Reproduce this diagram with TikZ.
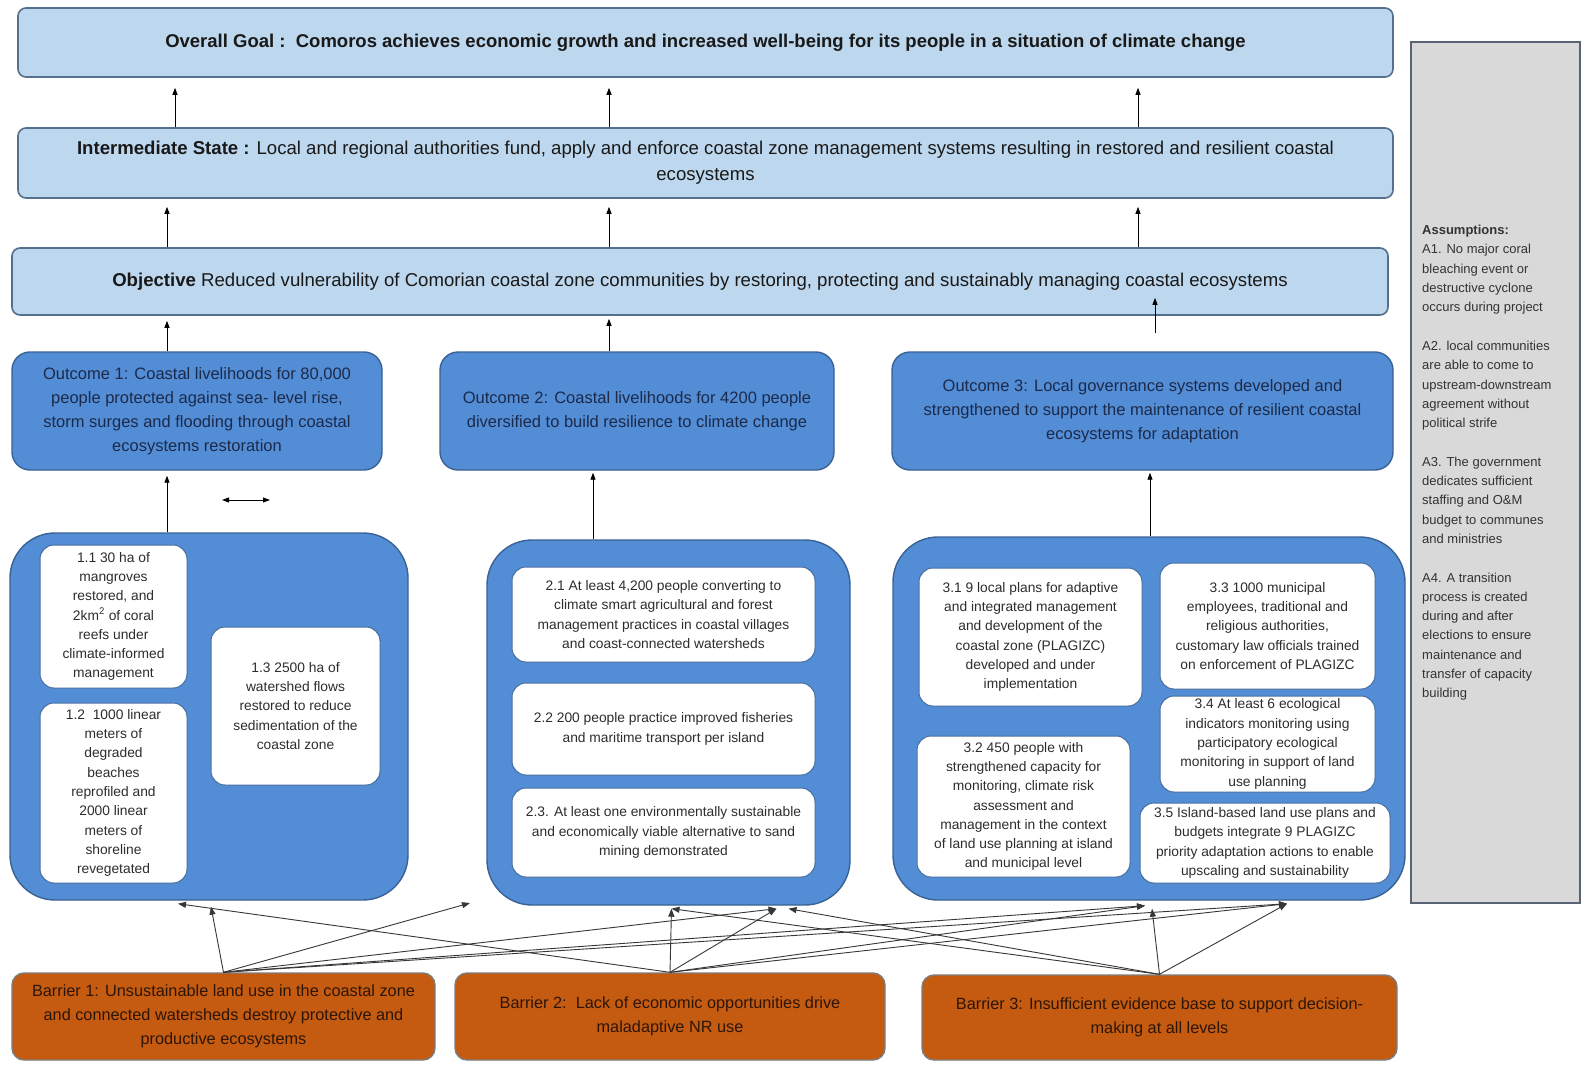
\documentclass[tikz,border=0pt]{standalone}
\usepackage{fontspec}
\setmainfont{Liberation Sans}
\usetikzlibrary{arrows.meta}
\definecolor{lightbox}{RGB}{189,215,238}
\definecolor{lightedge}{RGB}{84,112,140}
\definecolor{midblue}{RGB}{83,141,213}
\definecolor{midedge}{RGB}{58,98,148}
\definecolor{outtext}{RGB}{28,42,75}
\definecolor{barfill}{RGB}{197,90,17}
\definecolor{baredge}{RGB}{125,125,125}
\definecolor{bartext}{RGB}{45,22,8}
\definecolor{asmfill}{RGB}{217,217,217}
\definecolor{asmedge}{RGB}{88,100,115}
\definecolor{innertext}{RGB}{45,45,45}
\definecolor{inneredge}{RGB}{70,110,160}
\definecolor{linkgray}{RGB}{55,55,55}
\begin{document}
\begin{tikzpicture}[x=1pt,y=-1pt,
  topbox/.style={draw=lightedge, line width=1.6pt, fill=lightbox, rounded corners=8pt, align=center, inner sep=0pt, text=black!90},
  outbox/.style={draw=midedge, line width=1.4pt, fill=midblue, rounded corners=18pt, text=outtext, align=center, inner sep=0pt, minimum height=118pt, font=\fontsize{16.5}{24}\selectfont},
  groupbox/.style={draw=midedge, line width=1.4pt, fill=midblue, rounded corners=45pt, inner sep=0pt},
  inbox/.style={draw=inneredge, line width=1pt, fill=white, rounded corners=14pt, align=center, text=innertext, inner sep=0pt, font=\fontsize{13.8}{19.3}\selectfont},
  barbox/.style={draw=baredge, line width=1.4pt, fill=barfill, rounded corners=12pt, text=bartext, align=center, inner sep=0pt, font=\fontsize{16.3}{24}\selectfont},
  asmbox/.style={draw=asmedge, line width=1.6pt, fill=asmfill, inner sep=0pt},
  uparrow/.style={-{Triangle[length=7pt,width=5pt]}, line width=0.9pt, black},
  link/.style={-{Triangle[length=8pt,width=6pt]}, line width=0.9pt, linkgray},
  twoway/.style={{Triangle[length=7pt,width=5pt]}-{Triangle[length=7pt,width=5pt]}, line width=0.9pt, black}
]
\useasboundingbox (0,0) rectangle (1583,1070);
\fill[white] (0,0) rectangle (1583,1070);

% top level boxes
\node[topbox, minimum width=1375pt, minimum height=69pt, font=\bfseries\fontsize{18.5}{22}\selectfont] (goal) at (705.5,42.5)
  {Overall Goal :\ \ Comoros achieves economic growth and increased well-being for its people in a situation of climate change};
\node[topbox, minimum width=1375pt, minimum height=70pt, font=\fontsize{18.6}{26}\selectfont] (inter) at (705.5,163)
  {\textbf{Intermediate State :} Local and regional authorities fund, apply and enforce coastal zone management systems resulting in restored and resilient coastal\\ecosystems};
\node[topbox, minimum width=1376pt, minimum height=67pt, font=\fontsize{18.6}{24}\selectfont] (obj) at (700,281.5)
  {\textbf{Objective} Reduced vulnerability of Comorian coastal zone communities by restoring, protecting and sustainably managing coastal ecosystems};

% assumptions
\node[asmbox, minimum width=169pt, minimum height=861pt] (asm) at (1495.5,472.5) {};
\node[anchor=north west, align=left, inner sep=0pt, text=black!80, font=\fontsize{13}{19.3}\selectfont] (asmtxt) at (1422,225)
  {\textbf{Assumptions:}\\A1. No major coral\\bleaching event or\\destructive cyclone\\occurs during project\\[19.3pt]
   A2. local communities\\are able to come to\\upstream-downstream\\agreement without\\political strife\\[19.3pt]
   A3. The government\\dedicates sufficient\\staffing and O\&M\\budget to communes\\and ministries\\[19.3pt]
   A4. A transition\\process is created\\during and after\\elections to ensure\\maintenance and\\transfer of capacity\\building};

% outcomes
\node[outbox, minimum width=370pt] (o1) at (197,411)
  {Outcome 1: Coastal livelihoods for 80,000\\people protected against sea- level rise,\\storm surges and flooding through coastal\\ecosystems restoration};
\node[outbox, minimum width=394pt] (o2) at (637,411)
  {Outcome 2: Coastal livelihoods for 4200 people\\diversified to build resilience to climate change};
\node[outbox, minimum width=501pt] (o3) at (1142.5,411)
  {Outcome 3: Local governance systems developed and\\strengthened to support the maintenance of resilient coastal\\ecosystems for adaptation};

% output groups
\node[groupbox, minimum width=398pt, minimum height=367pt] (g1) at (209,716.5) {};
\node[groupbox, minimum width=363pt, minimum height=365pt] (g2) at (668.5,722.5) {};
\node[groupbox, minimum width=512pt, minimum height=363pt] (g3) at (1149,718.5) {};

% outputs
\node[inbox, minimum width=147pt, minimum height=143pt] (p11) at (113.5,616.5)
  {1.1 30 ha of\\mangroves\\restored, and\\2km\textsuperscript{2} of coral\\reefs under\\climate-informed\\management};
\node[inbox, minimum width=147pt, minimum height=180pt] (p12) at (113.5,793)
  {1.2\ \ 1000 linear\\meters of\\degraded\\beaches\\reprofiled and\\2000 linear\\meters of\\shoreline\\revegetated};
\node[inbox, minimum width=169pt, minimum height=158pt] (p13) at (295.5,706)
  {1.3 2500 ha of\\watershed flows\\restored to reduce\\sedimentation of the\\coastal zone};
\node[inbox, minimum width=303pt, minimum height=95pt] (p21) at (663.5,614.5)
  {2.1 At least 4,200 people converting to\\climate smart agricultural and forest\\management practices in coastal villages\\and coast-connected watersheds};
\node[inbox, minimum width=303pt, minimum height=92pt] (p22) at (663.5,729)
  {2.2 200 people practice improved fisheries\\and maritime transport per island};
\node[inbox, minimum width=303pt, minimum height=89pt] (p23) at (663.5,832.5)
  {2.3. At least one environmentally sustainable\\and economically viable alternative to sand\\mining demonstrated};
\node[inbox, minimum width=223pt, minimum height=138pt] (p31) at (1030.5,637)
  {3.1 9 local plans for adaptive\\and integrated management\\and development of the\\coastal zone (PLAGIZC)\\developed and under\\implementation};
\node[inbox, minimum width=213pt, minimum height=141pt] (p32) at (1023.5,806.5)
  {3.2 450 people with\\strengthened capacity for\\monitoring, climate risk\\assessment and\\management in the context\\of land use planning at island\\and municipal level};
\node[inbox, minimum width=215pt, minimum height=126pt] (p33) at (1267.5,626)
  {3.3 1000 municipal\\employees, traditional and\\religious authorities,\\customary law officials trained\\on enforcement of PLAGIZC};
\node[inbox, minimum width=215pt, minimum height=96pt] (p34) at (1267.5,744)
  {3.4 At least 6 ecological\\indicators monitoring using\\participatory ecological\\monitoring in support of land\\use planning};
\node[inbox, minimum width=250pt, minimum height=80pt] (p35) at (1265,843)
  {3.5 Island-based land use plans and\\budgets integrate 9 PLAGIZC\\priority adaptation actions to enable\\upscaling and sustainability};

% barriers
\node[barbox, minimum width=423pt, minimum height=87pt] (b1) at (223.5,1016.5)
  {Barrier 1: Unsustainable land use in the coastal zone\\and connected watersheds destroy protective and\\productive ecosystems};
\node[barbox, minimum width=430pt, minimum height=87pt] (b2) at (670,1016.5)
  {Barrier 2:\ \ Lack of economic opportunities drive\\maladaptive NR use};
\node[barbox, minimum width=475pt, minimum height=85pt] (b3) at (1159.5,1017.5)
  {Barrier 3: Insufficient evidence base to support decision-\\making at all levels};

% x positions for vertical connectors
\coordinate (xa) at (175,0);
\coordinate (xb) at (609,0);
\coordinate (xc) at (1138,0);
\coordinate (xd) at (167,0);
\coordinate (xe) at (1155,0);
\coordinate (xf) at (593,0);
\coordinate (xg) at (1150,0);

% vertical connectors
\draw[uparrow, shorten >=10pt] (inter.north -| xa) -- (goal.south -| xa);
\draw[uparrow, shorten >=10pt] (inter.north -| xb) -- (goal.south -| xb);
\draw[uparrow, shorten >=10pt] (inter.north -| xc) -- (goal.south -| xc);
\draw[uparrow, shorten >=8pt] (obj.north -| xd) -- (inter.south -| xd);
\draw[uparrow, shorten >=8pt] (obj.north -| xb) -- (inter.south -| xb);
\draw[uparrow, shorten >=8pt] (obj.north -| xc) -- (inter.south -| xc);
\draw[uparrow, shorten >=5pt] (o1.north -| xd) -- (obj.south -| xd);
\draw[uparrow, shorten >=3pt] (o2.north -| xb) -- (obj.south -| xb);
\draw[uparrow, shorten <=18pt, shorten >=-18pt] (o3.north -| xe) -- (obj.south -| xe);
\draw[uparrow, shorten >=5pt] (g1.north -| xd) -- (o1.south -| xd);
\draw[uparrow, shorten >=2pt] (g2.north -| xf) -- (o2.south -| xf);
\draw[uparrow, shorten >=2pt] (g3.north -| xg) -- (o3.south -| xg);

% stray two-way arrow
\coordinate (dl) at (222,500);
\coordinate (dr) at (270,500);
\draw[twoway] (dl) -- (dr);

% barrier links
\coordinate (tfree) at (470,903);
\draw[link] (b1.north) -- ([xshift=2pt,yshift=-6pt]g1.south);
\draw[link] (b1.north) -- (tfree);
\draw[link] (b1.north) -- ([xshift=108pt,yshift=-3pt]g2.south);
\draw[link] (b1.north) -- ([xshift=-4pt,yshift=-5pt]g3.south);
\draw[link] (b1.north) -- ([xshift=138pt,yshift=-3pt]g3.south);
\draw[link] (b2.north) -- ([xshift=-31pt,yshift=-3pt]g1.south);
\draw[link] (b2.north) -- ([xshift=3pt,yshift=-3pt]g2.south);
\draw[link] (b2.north) -- ([xshift=108pt,yshift=-3pt]g2.south);
\draw[link] (b2.north) -- ([xshift=-4pt,yshift=-5pt]g3.south);
\draw[link] (b2.north) -- ([xshift=138pt,yshift=-3pt]g3.south);
\draw[link] (b3.north) -- ([xshift=3pt,yshift=-8pt]g3.south);
\draw[link] (b3.north) -- ([xshift=138pt,yshift=-3pt]g3.south);
\draw[link] (b3.north) -- ([xshift=120pt,yshift=-3pt]g2.south);
\draw[link] (b3.north) -- ([xshift=3pt,yshift=-3pt]g2.south);
\end{tikzpicture}
\end{document}
